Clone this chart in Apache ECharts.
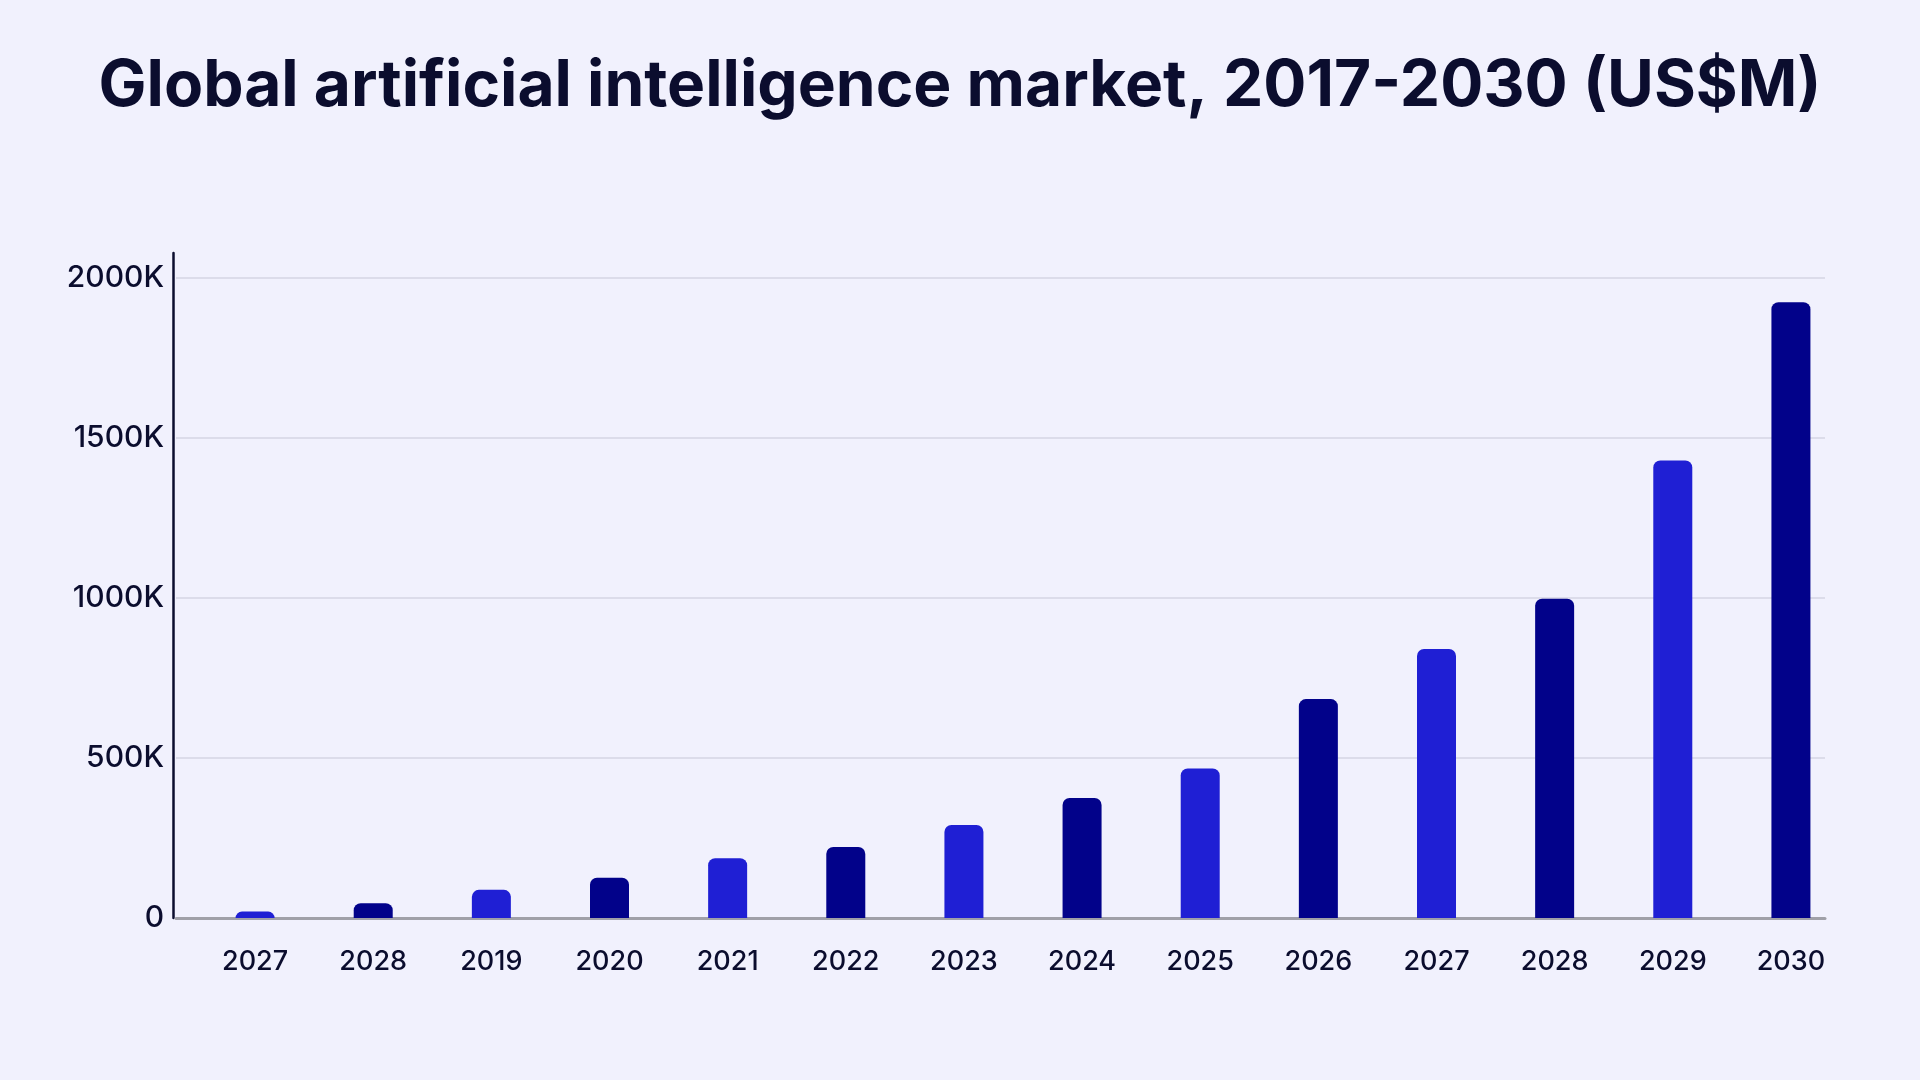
<!DOCTYPE html>
<html><head><meta charset="utf-8">
<script src="https://cdn.jsdelivr.net/npm/echarts@6/dist/echarts.min.js"></script>
<style>html,body{margin:0;padding:0;background:#f1f1fd;}#c{width:1920px;height:1080px;}</style>
</head><body><div id="c"></div>
<script>
const titleText = 'Global artificial intelligence market, 2017-2030 (US$M)';
const categories = ['2027','2028','2019','2020','2021','2022','2023','2024','2025','2026','2027','2028','2029','2030'];
const values = [20, 46, 88, 126, 187, 222, 291, 375, 467, 684, 841, 998, 1430, 1924];
const barColors = ['#1f1fd4','#02028a'];
const yTicks = [0, 500, 1000, 1500, 2000];

const chart = echarts.init(document.getElementById('c'), null, {renderer:'canvas'});
const font = 'Inter, "Noto Sans", sans-serif';
chart.setOption({
  backgroundColor: '#f1f1fd',
  title: {
    text: titleText, left: 'center', top: 50,
    textStyle: {fontFamily: font, fontWeight: 700, fontSize: 64, color: '#0b0d2e'}
  },
  grid: [
    {left: 176, right: 95, top: 278, bottom: 162, containLabel: false},
    {left: 196, right: 70, top: 278, bottom: 162, containLabel: false},
    {left: 173, right: 95, top: 253, bottom: 162, containLabel: false}
  ],
  xAxis: [
    {type: 'category', gridIndex: 0, data: categories, axisLine: {show: true, lineStyle: {color: '#a0a0a8', width: 3}},
     axisTick: {show: false}, axisLabel: {show: false}},
    {type: 'category', gridIndex: 1, data: categories, axisLine: {show: false}, axisTick: {show: false},
     axisLabel: {fontFamily: font, fontSize: 27, color: '#0b0d2e', margin: 30, fontWeight: 500}},
    {type: 'category', gridIndex: 2, data: categories, show: false}
  ],
  yAxis: [
    {type: 'value', gridIndex: 0, min: 0, max: 2000, interval: 500,
     axisLine: {show: false}, axisTick: {show: false},
     axisLabel: {fontFamily: font, fontSize: 30, color: '#0b0d2e', margin: 12, fontWeight: 500,
       formatter: v => yTicks.includes(v) ? (v === 0 ? '0' : v + 'K') : ''},
     splitLine: {show: true, lineStyle: {color: '#dcdcea', width: 2}}},
    {type: 'value', gridIndex: 1, min: 0, max: 2000, interval: 500, show: false, splitLine: {show: false}},
    {type: 'value', gridIndex: 2, min: 0, max: 2000, interval: 500, axisLabel: {show: false}, axisTick: {show: false},
     splitLine: {show: false}, axisLine: {show: true, lineStyle: {color: '#0b0d2e', width: 2.5}}}
  ],
  series: [{
    type: 'bar', xAxisIndex: 1, yAxisIndex: 1, data: values.map((v, i) => ({value: v, itemStyle: {color: barColors[i % 2]}})),
    barWidth: 39, itemStyle: {borderRadius: [7, 7, 0, 0]}, z: 3
  }]
});
</script></body></html>
